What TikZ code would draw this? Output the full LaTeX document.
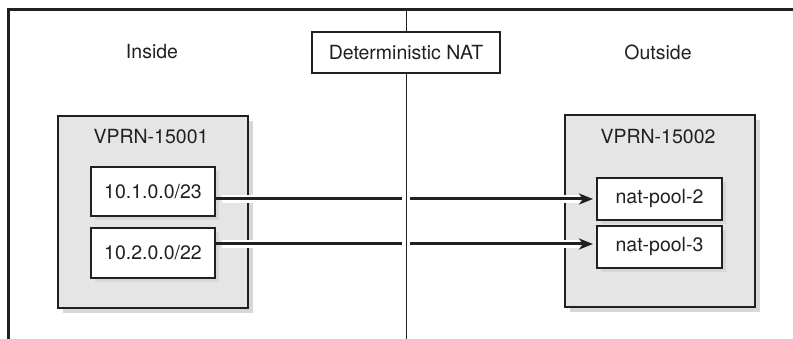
\documentclass[tikz,border=0pt]{standalone}
\usepackage{fontspec}
\setmainfont{TeX Gyre Heros}
\usetikzlibrary{arrows.meta,shadows}
\definecolor{ink}{HTML}{231F20}
\definecolor{vprngray}{HTML}{E5E5E5}
\definecolor{shadowgray}{HTML}{D3D8D8}
\tikzset{
  txt/.style={font=\fontsize{19.5}{23}\selectfont, text=ink},
  vprnbox/.style={draw=ink, line width=2pt, fill=vprngray, minimum width=190pt, minimum height=192pt,
    general shadow={fill=shadowgray, shadow xshift=5pt, shadow yshift=-5pt}},
  subnetbox/.style={txt, draw=ink, line width=2pt, fill=white, inner sep=0pt,
    general shadow={fill=shadowgray, shadow xshift=4pt, shadow yshift=-4pt}},
  flow/.style={ink, line width=3pt, shorten >=3pt, -{Stealth[length=14pt,width=11pt,inset=4pt]}},
  halo/.style={white, line width=8pt},
}
\begin{document}
\begin{tikzpicture}[x=1pt,y=-1pt]
  \useasboundingbox (0,0) rectangle (793,339);
  % Frame
  \draw[ink,line width=3pt] (793,9.5) -- (8.5,9.5) -- (8.5,339);
  % Sides
  \node[txt] (inside) at (152,52) {Inside};
  \node[txt] (outside) at (658,52) {Outside};
  \node[txt, draw=ink, line width=1.5pt, fill=white, minimum width=188pt, minimum height=41pt, inner sep=0pt]
    (nat) at (406,52.5) {Deterministic NAT};
  % VPRN boxes
  \node[vprnbox] (vprnin) at (153,212.5) {};
  \node[vprnbox] (vprnout) at (659.5,211.5) {};
  \node[txt] (vprninlbl) at (151,137) {VPRN-15001};
  \node[txt] (vprnoutlbl) at (658,137) {VPRN-15002};
  % Prefixes and pools
  \node[subnetbox, minimum width=124pt, minimum height=49pt] (netA) at (153,191.5) {10.1.0.0/23};
  \node[subnetbox, minimum width=124pt, minimum height=50pt] (netB) at (153,253) {10.2.0.0/22};
  \node[subnetbox, minimum width=125pt, minimum height=42pt] (poolA) at (659.5,199) {nat-pool-2};
  \node[subnetbox, minimum width=125pt, minimum height=42pt] (poolB) at (659.5,247) {nat-pool-3};
  % Mappings
  \coordinate (tipA) at (poolA.west);
  \coordinate (tipB) at ([yshift=3pt]poolB.west);
  \draw[halo] ([xshift=6pt]netA.east |- tipA) -- ([xshift=-16pt]tipA);
  \draw[halo] ([xshift=6pt]netB.east |- tipB) -- ([xshift=-16pt]tipB);
  \draw[flow] (netA.east |- tipA) -- (tipA);
  \draw[flow] (netB.east |- tipB) -- (tipB);
  % Divider
  \draw[ink,line width=1pt] (406,9.5) -- (nat.north);
  \draw[halo] ([yshift=-3pt]nat.south) -- (406,339);
  \draw[ink,line width=1pt] (nat.south) -- (406,339);
\end{tikzpicture}
\end{document}
